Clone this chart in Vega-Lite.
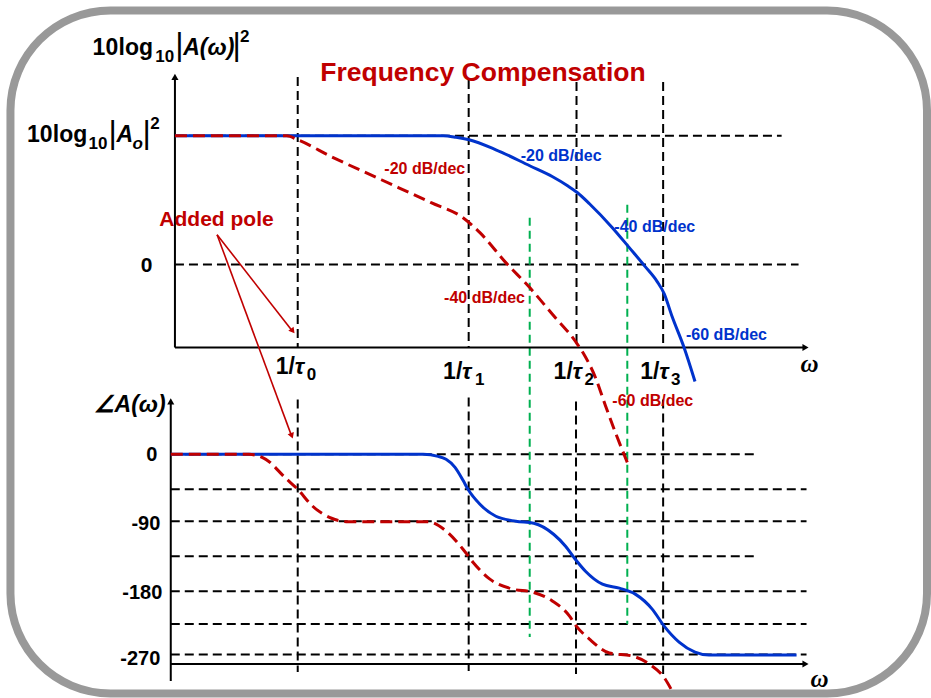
{
  "$schema": "https://vega.github.io/schema/vega-lite/v6.json",
  "width": 931,
  "height": 698,
  "autosize": {"type": "fit", "contains": "padding"},
  "padding": 0,
  "background": "white",
  "config": {"view": {"stroke": null}},
  "encoding": {
    "x": {"field": "x", "type": "quantitative", "scale": {"domain": [0, 931], "nice": false, "zero": false}, "axis": null},
    "y": {"field": "y", "type": "quantitative", "scale": {"domain": [0, 698], "nice": false, "zero": false, "reverse": true}, "axis": null}
  },
  "layer": [
    {
      "data": {"values": [{"x": 10.5, "x2": 931, "y": 10.5, "y2": 694.5}]},
      "mark": {"type": "rect", "filled": false, "color": "#999999", "strokeWidth": 8, "cornerRadius": 100},
      "encoding": {"x2": {"field": "x2"}, "y2": {"field": "y2"}}
    },
    {
      "data": {"values": [
        {"x": 175.7, "x2": 785, "y": 136, "y2": 136},
        {"x": 175.7, "x2": 802, "y": 265, "y2": 265},
        {"x": 299, "x2": 299, "y": 77, "y2": 348},
        {"x": 470.7, "x2": 470.7, "y": 80, "y2": 348},
        {"x": 579, "x2": 579, "y": 82, "y2": 348},
        {"x": 666, "x2": 666, "y": 82, "y2": 348},
        {"x": 299, "x2": 299, "y": 400, "y2": 673},
        {"x": 470.7, "x2": 470.7, "y": 398, "y2": 672},
        {"x": 578.5, "x2": 578.5, "y": 402, "y2": 675},
        {"x": 666, "x2": 666, "y": 400, "y2": 675},
        {"x": 171.5, "x2": 762, "y": 455, "y2": 455},
        {"x": 171.5, "x2": 810, "y": 490, "y2": 490},
        {"x": 171.5, "x2": 810, "y": 522, "y2": 522},
        {"x": 171.5, "x2": 762, "y": 557, "y2": 557},
        {"x": 171.5, "x2": 810, "y": 592, "y2": 592},
        {"x": 171.5, "x2": 810, "y": 625, "y2": 625},
        {"x": 171.5, "x2": 810, "y": 655.5, "y2": 655.5}
      ]},
      "mark": {"type": "rule", "color": "black", "strokeWidth": 2, "strokeDash": [9, 5]},
      "encoding": {"x2": {"field": "x2"}, "y2": {"field": "y2"}}
    },
    {
      "data": {"values": [
        {"x": 532, "x2": 532, "y": 218, "y2": 638},
        {"x": 630, "x2": 630, "y": 205, "y2": 625}
      ]},
      "mark": {"type": "rule", "color": "#00b050", "strokeWidth": 2, "strokeDash": [8, 5]},
      "encoding": {"x2": {"field": "x2"}, "y2": {"field": "y2"}}
    },
    {
      "data": {"values": [
        {"x": 175.7, "x2": 175.7, "y": 78, "y2": 348},
        {"x": 175.7, "x2": 808, "y": 348, "y2": 348},
        {"x": 171.5, "x2": 171.5, "y": 403, "y2": 682},
        {"x": 171.5, "x2": 808, "y": 665, "y2": 665}
      ]},
      "mark": {"type": "rule", "color": "black", "strokeWidth": 2},
      "encoding": {"x2": {"field": "x2"}, "y2": {"field": "y2"}}
    },
    {
      "data": {"values": [{"x": 175.7, "y": 77}, {"x": 171.5, "y": 402}]},
      "mark": {"type": "point", "shape": "triangle-up", "filled": true, "color": "black", "size": 50, "opacity": 1}
    },
    {
      "data": {"values": [{"x": 809, "y": 348}, {"x": 809, "y": 665}]},
      "mark": {"type": "point", "shape": "triangle-right", "filled": true, "color": "black", "size": 50, "opacity": 1}
    },
    {
      "data": {"values": [
        {"s": "mag", "x": 175.7, "y": 136}, {"s": "mag", "x": 445, "y": 136}, {"s": "mag", "x": 458, "y": 137.5},
        {"s": "mag", "x": 471, "y": 140}, {"s": "mag", "x": 498, "y": 150}, {"s": "mag", "x": 532, "y": 166},
        {"s": "mag", "x": 555, "y": 177}, {"s": "mag", "x": 570, "y": 186}, {"s": "mag", "x": 580, "y": 193},
        {"s": "mag", "x": 592, "y": 204}, {"s": "mag", "x": 615, "y": 228}, {"s": "mag", "x": 632, "y": 248},
        {"s": "mag", "x": 648, "y": 267}, {"s": "mag", "x": 660, "y": 282}, {"s": "mag", "x": 667, "y": 294},
        {"s": "mag", "x": 675, "y": 317}, {"s": "mag", "x": 687, "y": 348}, {"s": "mag", "x": 698, "y": 382},
        {"s": "ph", "x": 171.5, "y": 455}, {"s": "ph", "x": 425, "y": 455}, {"s": "ph", "x": 440, "y": 457},
        {"s": "ph", "x": 448, "y": 460}, {"s": "ph", "x": 457, "y": 468}, {"s": "ph", "x": 465, "y": 481},
        {"s": "ph", "x": 470, "y": 490}, {"s": "ph", "x": 482, "y": 505}, {"s": "ph", "x": 498, "y": 517},
        {"s": "ph", "x": 518, "y": 522}, {"s": "ph", "x": 536, "y": 524}, {"s": "ph", "x": 556, "y": 535},
        {"s": "ph", "x": 568, "y": 547}, {"s": "ph", "x": 577, "y": 559}, {"s": "ph", "x": 588, "y": 572},
        {"s": "ph", "x": 605, "y": 585}, {"s": "ph", "x": 622, "y": 589}, {"s": "ph", "x": 638, "y": 595},
        {"s": "ph", "x": 655, "y": 610}, {"s": "ph", "x": 667, "y": 627}, {"s": "ph", "x": 682, "y": 643},
        {"s": "ph", "x": 698, "y": 653}, {"s": "ph", "x": 712, "y": 656}, {"s": "ph", "x": 800, "y": 656}
      ]},
      "mark": {"type": "line", "interpolate": "monotone", "color": "#0033cc", "strokeWidth": 3},
      "encoding": {"detail": {"field": "s"}}
    },
    {
      "data": {"values": [
        {"s": "mag", "x": 175.7, "y": 136}, {"s": "mag", "x": 288, "y": 136}, {"s": "mag", "x": 299, "y": 140},
        {"s": "mag", "x": 333, "y": 157}, {"s": "mag", "x": 383, "y": 180}, {"s": "mag", "x": 433, "y": 203},
        {"s": "mag", "x": 465, "y": 218}, {"s": "mag", "x": 482, "y": 233}, {"s": "mag", "x": 508, "y": 263},
        {"s": "mag", "x": 532, "y": 288}, {"s": "mag", "x": 555, "y": 315}, {"s": "mag", "x": 578, "y": 342},
        {"s": "mag", "x": 586, "y": 354}, {"s": "mag", "x": 598, "y": 378}, {"s": "mag", "x": 608, "y": 406},
        {"s": "mag", "x": 618, "y": 433}, {"s": "mag", "x": 630, "y": 463},
        {"s": "ph", "x": 171.5, "y": 455}, {"s": "ph", "x": 250, "y": 455}, {"s": "ph", "x": 267, "y": 460},
        {"s": "ph", "x": 287, "y": 479}, {"s": "ph", "x": 299, "y": 490}, {"s": "ph", "x": 313, "y": 506},
        {"s": "ph", "x": 333, "y": 519}, {"s": "ph", "x": 350, "y": 522.5}, {"s": "ph", "x": 430, "y": 522.5},
        {"s": "ph", "x": 447, "y": 531}, {"s": "ph", "x": 465, "y": 550}, {"s": "ph", "x": 475, "y": 563},
        {"s": "ph", "x": 492, "y": 580}, {"s": "ph", "x": 515, "y": 590}, {"s": "ph", "x": 535, "y": 593},
        {"s": "ph", "x": 555, "y": 602}, {"s": "ph", "x": 572, "y": 617}, {"s": "ph", "x": 578, "y": 626},
        {"s": "ph", "x": 592, "y": 640}, {"s": "ph", "x": 612, "y": 654}, {"s": "ph", "x": 635, "y": 657},
        {"s": "ph", "x": 652, "y": 665}, {"s": "ph", "x": 668, "y": 680}, {"s": "ph", "x": 675, "y": 692}
      ]},
      "mark": {"type": "line", "interpolate": "monotone", "color": "#c00000", "strokeWidth": 3, "strokeDash": [12, 6]},
      "encoding": {"detail": {"field": "s"}}
    },
    {
      "data": {"values": [
        {"x": 218, "y": 235, "x2": 294, "y2": 332},
        {"x": 218, "y": 235, "x2": 293, "y2": 437}
      ]},
      "mark": {"type": "rule", "color": "#c00000", "strokeWidth": 1.6},
      "encoding": {"x2": {"field": "x2"}, "y2": {"field": "y2"}}
    },
    {
      "data": {"values": [{"x": 294, "y": 331.5}]},
      "mark": {"type": "point", "shape": "triangle-up", "filled": true, "color": "#c00000", "size": 45, "angle": 142, "opacity": 1}
    },
    {
      "data": {"values": [{"x": 293, "y": 436.5}]},
      "mark": {"type": "point", "shape": "triangle-up", "filled": true, "color": "#c00000", "size": 45, "angle": 160, "opacity": 1}
    },
    {
      "data": {"values": [
        {"x": 93, "y": 55, "t": "10"}, {"x": 119, "y": 55, "t": "log"},
        {"x": 27, "y": 142, "t": "10"}, {"x": 53, "y": 142, "t": "log"},
        {"x": 277, "y": 375, "t": "1/"}, {"x": 445, "y": 380, "t": "1/"},
        {"x": 556, "y": 380, "t": "1/"}, {"x": 643, "y": 380, "t": "1/"}
      ]},
      "mark": {"type": "text", "font": "Liberation Sans", "fontWeight": "bold", "fontSize": 23, "align": "left", "baseline": "alphabetic", "color": "black"},
      "encoding": {"text": {"field": "t"}}
    },
    {
      "data": {"values": [
        {"x": 184, "y": 55, "t": "A(ω)"}, {"x": 117, "y": 142, "t": "A"}, {"x": 94, "y": 413, "t": "∠A(ω)"},
        {"x": 296, "y": 375, "t": "τ"}, {"x": 464, "y": 380, "t": "τ"},
        {"x": 575, "y": 380, "t": "τ"}, {"x": 662, "y": 380, "t": "τ"}
      ]},
      "mark": {"type": "text", "font": "Liberation Sans", "fontWeight": "bold", "fontStyle": "italic", "fontSize": 23, "align": "left", "baseline": "alphabetic", "color": "black"},
      "encoding": {"text": {"field": "t"}}
    },
    {
      "data": {"values": [
        {"x": 156, "y": 62, "t": "10"}, {"x": 89, "y": 149, "t": "10"},
        {"x": 308, "y": 381, "t": "0"}, {"x": 477, "y": 386, "t": "1"},
        {"x": 587, "y": 386, "t": "2"}, {"x": 674, "y": 386, "t": "3"},
        {"x": 241, "y": 42, "t": "2"}, {"x": 151, "y": 129, "t": "2"}
      ]},
      "mark": {"type": "text", "font": "Liberation Sans", "fontWeight": "bold", "fontSize": 17, "align": "left", "baseline": "alphabetic", "color": "black"},
      "encoding": {"text": {"field": "t"}}
    },
    {
      "data": {"values": [{"x": 133, "y": 149, "t": "o"}]},
      "mark": {"type": "text", "font": "Liberation Sans", "fontWeight": "bold", "fontStyle": "italic", "fontSize": 17, "align": "left", "baseline": "alphabetic", "color": "black"},
      "encoding": {"text": {"field": "t"}}
    },
    {
      "data": {"values": [
        {"x": 176, "y": 55, "t": "|"}, {"x": 233.5, "y": 55, "t": "|"},
        {"x": 109, "y": 143, "t": "|"}, {"x": 143, "y": 143, "t": "|"}
      ]},
      "mark": {"type": "text", "font": "Liberation Sans", "fontSize": 32, "align": "left", "baseline": "alphabetic", "color": "black"},
      "encoding": {"text": {"field": "t"}}
    },
    {
      "data": {"values": [{"x": 153, "y": 272, "t": "0"}]},
      "mark": {"type": "text", "font": "Liberation Sans", "fontWeight": "bold", "fontSize": 21, "align": "right", "baseline": "alphabetic", "color": "black"},
      "encoding": {"text": {"field": "t"}}
    },
    {
      "data": {"values": [
        {"x": 158, "y": 462, "t": "0"},
        {"x": 161, "y": 531, "t": "-90"}, {"x": 163, "y": 600, "t": "-180"}, {"x": 161, "y": 666, "t": "-270"}
      ]},
      "mark": {"type": "text", "font": "Liberation Sans", "fontWeight": "bold", "fontSize": 20, "align": "right", "baseline": "alphabetic", "color": "black"},
      "encoding": {"text": {"field": "t"}}
    },
    {
      "data": {"values": [
        {"x": 386, "y": 174, "t": "-20 dB/dec"}, {"x": 446, "y": 303, "t": "-40 dB/dec"}, {"x": 615, "y": 407, "t": "-60 dB/dec"}
      ]},
      "mark": {"type": "text", "font": "Liberation Sans", "fontWeight": "bold", "fontSize": 16, "align": "left", "baseline": "alphabetic", "color": "#c00000"},
      "encoding": {"text": {"field": "t"}}
    },
    {
      "data": {"values": [
        {"x": 523, "y": 161, "t": "-20 dB/dec"}, {"x": 617, "y": 232, "t": "-40 dB/dec"}, {"x": 689, "y": 340, "t": "-60 dB/dec"}
      ]},
      "mark": {"type": "text", "font": "Liberation Sans", "fontWeight": "bold", "fontSize": 16, "align": "left", "baseline": "alphabetic", "color": "#0033cc"},
      "encoding": {"text": {"field": "t"}}
    },
    {
      "data": {"values": [{"x": 485, "y": 81, "t": "Frequency Compensation"}]},
      "mark": {"type": "text", "font": "Liberation Sans", "fontWeight": "bold", "fontSize": 26.5, "align": "center", "baseline": "alphabetic", "color": "#c00000"},
      "encoding": {"text": {"field": "t"}}
    },
    {
      "data": {"values": [{"x": 160, "y": 226, "t": "Added pole"}]},
      "mark": {"type": "text", "font": "Liberation Sans", "fontWeight": "bold", "fontSize": 21, "align": "left", "baseline": "alphabetic", "color": "#c00000"},
      "encoding": {"text": {"field": "t"}}
    },
    {
      "data": {"values": [{"x": 804, "y": 373, "t": "ω"}, {"x": 814, "y": 688, "t": "ω"}]},
      "mark": {"type": "text", "font": "Liberation Serif", "fontWeight": "bold", "fontStyle": "italic", "fontSize": 25, "align": "left", "baseline": "alphabetic", "color": "black"},
      "encoding": {"text": {"field": "t"}}
    }
  ]
}
